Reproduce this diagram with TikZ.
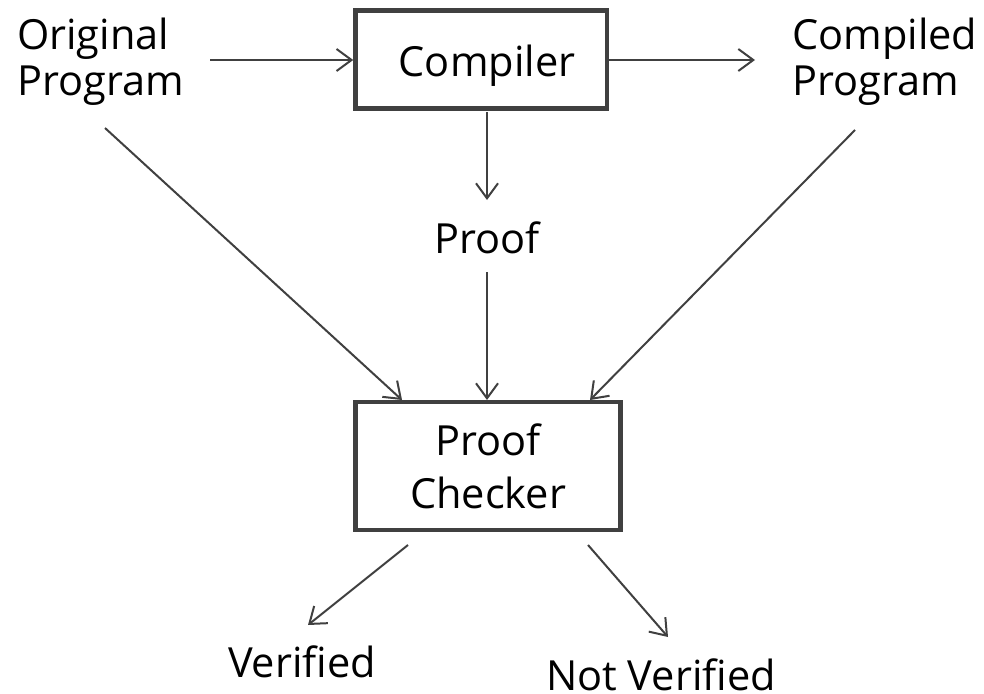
\documentclass[tikz,border=0pt]{standalone}
\usepackage{fontspec}
\setmainfont{Open Sans}
\usetikzlibrary{arrows.meta}
\definecolor{ln}{HTML}{404040}
\tikzset{
  lbl/.style={font=\fontsize{41.5}{46}\selectfont, inner sep=0pt},
  boxnode/.style={draw=ln, line width=4.5pt, inner sep=0pt},
  arr/.style={draw=ln, line width=2pt, -{Straight Barb[length=15pt,width=22pt]}}
}
\begin{document}
\begin{tikzpicture}[x=1pt,y=-1pt]
\useasboundingbox (0,0) rectangle (984,693);
\node[lbl, align=left, anchor=base west] (orig) at (17,95) {Original\\Program};
\node[lbl, align=left, anchor=base west] (compiled) at (792,95) {Compiled\\Program};
\node[boxnode, minimum width=251.5pt, minimum height=98pt] (compiler) at (481.25,59.5) {};
\node[lbl, anchor=base] (compilert) at (487,77) {Compiler};
\node[lbl, anchor=base] (proof) at (487,253) {Proof};
\node[boxnode, minimum width=265pt, minimum height=128pt] (checker) at (488,466) {};
\node[lbl, align=center, font=\fontsize{41.5}{53}\selectfont, anchor=base] (checkert) at (488,508) {Proof\\Checker};
\node[lbl, anchor=base] (ver) at (302,677) {Verified};
\node[lbl, anchor=base] (nver) at (661,690) {Not Verified};
\coordinate (a1) at (210,60);
\coordinate (a2) at (607,60);
\coordinate (a2e) at (755,60);
\coordinate (a3) at (487,112);
\coordinate (a3e) at (487,200);
\coordinate (a4) at (487,272);
\coordinate (a4e) at (487,400);
\coordinate (a5) at (105,128);
\coordinate (a5e) at (402,400);
\coordinate (a6) at (855,130);
\coordinate (a6e) at (590,400);
\coordinate (a7) at (408,545);
\coordinate (a7e) at (308,625);
\coordinate (a8) at (588,545);
\coordinate (a8e) at (668,637);
\draw[arr] (a1) -- (compiler.west |- a1);
\draw[arr] (a2) -- (a2e);
\draw[arr] (a3) -- (a3e);
\draw[arr] (a4) -- (a4e);
\draw[arr] (a5) -- (a5e);
\draw[arr] (a6) -- (a6e);
\draw[arr] (a7) -- (a7e);
\draw[arr] (a8) -- (a8e);
\end{tikzpicture}
\end{document}
